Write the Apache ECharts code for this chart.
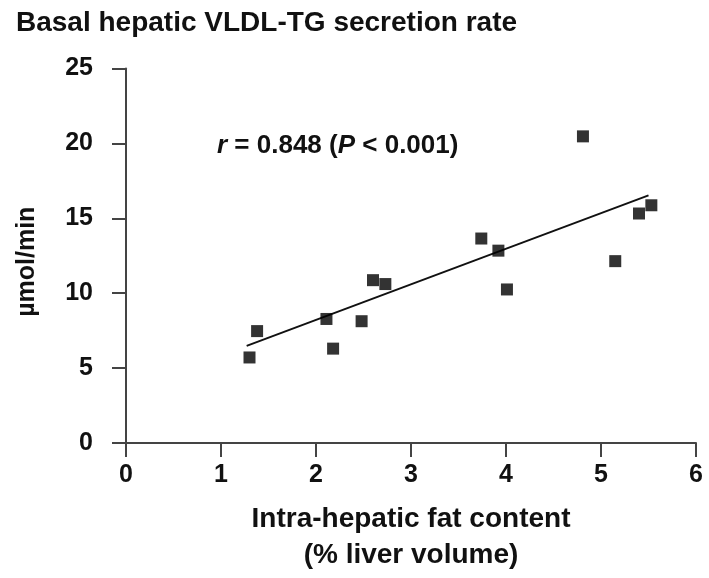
<!DOCTYPE html>
<html>
<head>
<meta charset="utf-8">
<script src="https://cdn.jsdelivr.net/npm/echarts@6/dist/echarts.min.js"></script>
<style>html,body{margin:0;padding:0;background:#fff;}#c{width:709px;height:578px;}</style>
</head>
<body>
<div id="c"></div>
<script>
// Data
var fatContent = [1.30, 1.38, 2.11, 2.18, 2.48, 2.60, 2.73, 3.74, 3.92, 4.01, 4.81, 5.15, 5.40, 5.53];
var secretionRate = [5.71, 7.47, 8.28, 6.30, 8.13, 10.87, 10.61, 13.65, 12.84, 10.25, 20.47, 12.14, 15.32, 15.87];
var fitX = [1.27, 5.50];
var fitY = [6.48, 16.53];
var xTicks = [0, 1, 2, 3, 4, 5, 6];
var yTicks = [0, 5, 10, 15, 20, 25];
var titleText = 'Basal hepatic VLDL-TG secretion rate';
var xName = 'Intra-hepatic fat content\n(% liver volume)';
var yName = 'µmol/min';

var FONT = '"Liberation Sans", Arial, sans-serif';
var TXT = '#111';
var AX = '#444';

var points = fatContent.map(function (x, i) { return [x, secretionRate[i]]; });
var fit = fitX.map(function (x, i) { return [x, fitY[i]]; });

var chart = echarts.init(document.getElementById('c'), null, { renderer: 'canvas' });
chart.setOption({
  animation: false,
  backgroundColor: '#fff',
  title: [
    { text: titleText, left: 16, top: 9, padding: 0,
      textStyle: { fontFamily: FONT, fontWeight: 'bold', fontSize: 28, color: TXT } },
    { text: '{i|r} = 0.848 ({i|P} < 0.001)', left: 217, top: 133, padding: 0,
      textStyle: { fontFamily: FONT, fontWeight: 'bold', fontSize: 26, color: TXT,
        rich: { i: { fontFamily: FONT, fontWeight: 'bold', fontStyle: 'italic', fontSize: 26, color: TXT } } } }
  ],
  grid: { left: 126, right: 13, top: 68.5, bottom: 129.5, containLabel: false },
  xAxis: {
    type: 'value', min: xTicks[0], max: xTicks[xTicks.length - 1], interval: 1,
    name: xName, nameLocation: 'middle', nameGap: 58,
    nameTextStyle: { fontFamily: FONT, fontWeight: 'bold', fontSize: 28, color: TXT, lineHeight: 36 },
    axisLine: { onZero: false, lineStyle: { color: AX, width: 2 } },
    axisTick: { show: true, length: 14, lineStyle: { color: AX, width: 2 } },
    axisLabel: { margin: 20, fontFamily: FONT, fontWeight: 'bold', fontSize: 25, color: TXT },
    splitLine: { show: false }
  },
  yAxis: {
    type: 'value', min: yTicks[0], max: yTicks[yTicks.length - 1], interval: 5,
    name: yName, nameLocation: 'middle', nameGap: 86, nameRotate: 90,
    nameTextStyle: { fontFamily: FONT, fontWeight: 'bold', fontSize: 25, color: TXT, padding: [0, 12, 0, 0] },
    axisLine: { show: true, onZero: false, lineStyle: { color: AX, width: 2 } },
    axisTick: { show: true, length: 14, lineStyle: { color: AX, width: 2 } },
    axisLabel: { margin: 33, fontFamily: FONT, fontWeight: 'bold', fontSize: 25, color: TXT },
    splitLine: { show: false }
  },
  series: [
    { type: 'line', data: fit, symbol: 'none', lineStyle: { color: '#111', width: 2 }, z: 2 },
    { type: 'scatter', data: points, symbol: 'rect', symbolSize: 12, itemStyle: { color: '#000' }, z: 3 }
  ]
});
</script>
</body>
</html>
